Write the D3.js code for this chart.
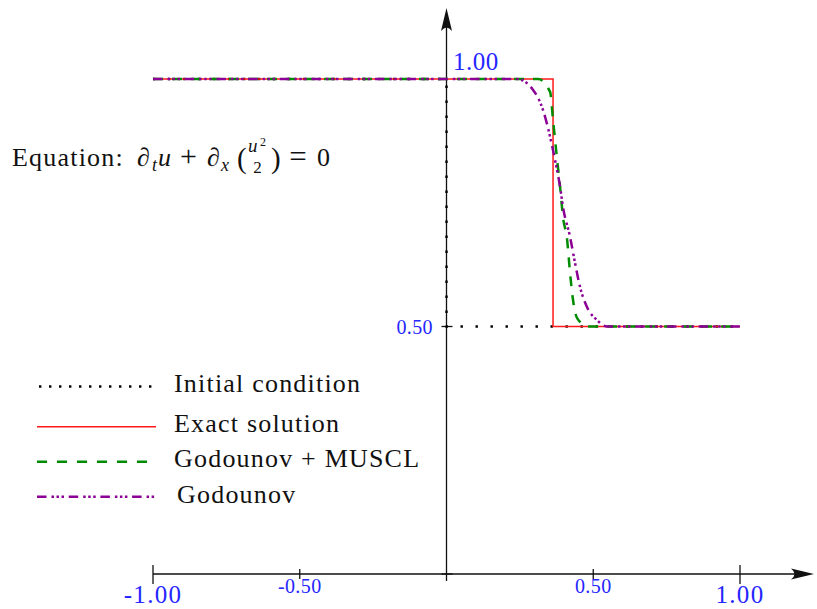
<!DOCTYPE html>
<html>
<head>
<meta charset="utf-8">
<script src="https://cdn.jsdelivr.net/npm/d3@7"></script>
<style>
  body { margin: 0; background: #fff; }
  svg { display: block; }
</style>
</head>
<body>
<script>
// data
const xTicks = [-1, -0.5, 0.5, 1];
const xTickLabels = ["-1.00", "-0.50", "0.50", "1.00"];
const yTicks = [0.5, 1];
const yTickLabels = ["0.50", "1.00"];

const initialX = [-1, 0, 0, 1];
const initialU = [1, 1, 0.5, 0.5];

const exactX = [-1, 0.363, 0.363, 1];
const exactU = [1, 1, 0.5, 0.5];

const musclX = [-1, 0.312, 0.353, 0.363, 0.376, 0.387, 0.397, 0.411, 0.421, 0.431, 0.445, 0.482, 1];
const musclU = [1, 1, 0.974, 0.917, 0.842, 0.782, 0.721, 0.675, 0.608, 0.554, 0.517, 0.5, 0.5];

const godunovX = [-1, 0.24, 0.295, 0.329, 0.353, 0.37, 0.387, 0.397, 0.421, 0.438, 0.455, 0.479, 0.513, 0.547, 1];
const godunovU = [1, 1, 0.978, 0.937, 0.883, 0.836, 0.782, 0.741, 0.681, 0.628, 0.58, 0.539, 0.513, 0.5, 0.5];

const legendLabels = ["Initial condition", "Exact solution", "Godounov + MUSCL", "Godounov"];

const W = 817, H = 609;
const serif = "'Liberation Serif', 'DejaVu Serif', serif";
const blue = "#2626ff";

const svg = d3.select("body").append("svg")
    .attr("width", W)
    .attr("height", H);

const x = d3.scaleLinear().domain([-1, 1]).range([153, 740]);
const y = d3.scaleLinear().domain([0, 1]).range([574, 79]);

// styles for each series (plot dash / legend dash)
const styles = [
    {stroke: "#000", width: 2.4, dash: "2.4,12.6", legDash: "2.4,7.6"},
    {stroke: "#ff1a1a", width: 1.5, dash: null, legDash: null},
    {stroke: "#008c00", width: 2.5, dash: "10,9", legDash: "10,10"},
    {stroke: "#8c0096", width: 2.5, dash: "9.5,5,2.5,2.5,2.5,2.5,2.5,4.7", legDash: "9.5,5,2.5,2.5,2.5,2.5,2.5,4.7"}
];

const series = [
    {xs: initialX, us: initialU, curve: d3.curveLinear},
    {xs: exactX, us: exactU, curve: d3.curveLinear},
    {xs: musclX, us: musclU, curve: d3.curveMonotoneX},
    {xs: godunovX, us: godunovU, curve: d3.curveMonotoneX}
];

// axes
const axis = svg.append("g").attr("stroke", "#111").attr("stroke-width", 1.3).attr("fill", "none");
axis.append("line").attr("x1", x(-1)).attr("x2", 800).attr("y1", y(0)).attr("y2", y(0));
axis.append("line").attr("x1", x(0)).attr("x2", x(0)).attr("y1", 581).attr("y2", 20);

xTicks.forEach(t => {
    const big = Math.abs(t) === 1;
    axis.append("line")
        .attr("x1", x(t)).attr("x2", x(t))
        .attr("y1", y(0) - (big ? 9 : 5))
        .attr("y2", y(0) + (big ? 10 : 5));
});
yTicks.concat([0]).forEach(t => {
    if (t === 1) return;
    axis.append("line")
        .attr("x1", x(0) - 5).attr("x2", x(0) + 6)
        .attr("y1", y(t)).attr("y2", y(t));
});

// arrow heads
const ax = x(0);
svg.append("path")
    .attr("d", `M${ax},8 L${ax - 5.5},31 Q${ax},24 ${ax + 5.5},31 Z`)
    .attr("fill", "#111");
const ay = y(0);
svg.append("path")
    .attr("d", `M814,${ay} L791,${ay - 5.5} Q798,${ay} 791,${ay + 5.5} Z`)
    .attr("fill", "#111");

// tick labels
const labels = svg.append("g").attr("font-family", serif).attr("fill", blue);
xTicks.forEach((t, i) => {
    const big = Math.abs(t) === 1;
    labels.append("text")
        .attr("x", x(t))
        .attr("y", big ? 603 : 593)
        .attr("text-anchor", "middle")
        .attr("font-size", big ? 25 : 20)
        .attr("letter-spacing", big ? 1.3 : 0.4)
        .text(xTickLabels[i]);
});
labels.append("text")
    .attr("x", 433).attr("y", y(0.5) + 7)
    .attr("text-anchor", "end")
    .attr("font-size", 20)
    .attr("letter-spacing", 0.4)
    .text(yTickLabels[0]);
labels.append("text")
    .attr("x", 453).attr("y", 70)
    .attr("font-size", 25)
    .attr("letter-spacing", 0.5)
    .text(yTickLabels[1]);

// curves
const line = d3.line();
series.forEach((s, i) => {
    const pts = s.xs.map((v, j) => [x(v), y(s.us[j])]);
    svg.append("path")
        .attr("d", line.curve(s.curve)(pts))
        .attr("fill", "none")
        .attr("stroke", styles[i].stroke)
        .attr("stroke-width", styles[i].width)
        .attr("stroke-dasharray", styles[i].dash);
});

// legend
const legY = [386.5, 426.7, 461.7, 496.7];
const legTextY = [392, 432, 467, 503];
const leg = svg.append("g");
legendLabels.forEach((lab, i) => {
    leg.append("line")
        .attr("x1", i === 0 ? 39 : 37).attr("x2", 156)
        .attr("y1", legY[i]).attr("y2", legY[i])
        .attr("stroke", styles[i].stroke)
        .attr("stroke-width", styles[i].width)
        .attr("stroke-dasharray", styles[i].legDash);
    leg.append("text")
        .attr("x", i === 3 ? 177 : 174)
        .attr("y", legTextY[i])
        .attr("font-family", serif)
        .attr("font-size", 26)
        .attr("letter-spacing", 1.2)
        .attr("fill", "#111")
        .text(lab);
});

// equation, piece by piece
const eq = svg.append("g").attr("font-family", serif).attr("fill", "#111");
function piece(str, px, py, size, opts = {}) {
    return eq.append("text")
        .attr("x", px).attr("y", py)
        .attr("font-size", size)
        .attr("font-style", opts.italic ? "italic" : null)
        .attr("letter-spacing", opts.ls || null)
        .attr("text-anchor", opts.anchor || null)
        .text(str);
}
piece("Equation:", 12, 166, 26, {ls: 1.2});
piece("\u2202", 137, 166, 26);
piece("t", 152, 171, 18, {italic: true});
piece("u", 158, 166, 26, {italic: true});
piece("+", 188.5, 166, 30, {anchor: "middle"});
piece("\u2202", 207, 166, 26);
piece("x", 221, 171, 18, {italic: true});
piece("(", 237, 168, 29);
piece("u", 248, 152, 19, {italic: true});
piece("2", 260, 146, 12);
piece("2", 257.5, 173, 17, {anchor: "middle"});
piece(")", 271, 168, 29);
piece("=", 298, 167, 31, {anchor: "middle"});
piece("0", 317, 166, 26);
</script>
</body>
</html>
